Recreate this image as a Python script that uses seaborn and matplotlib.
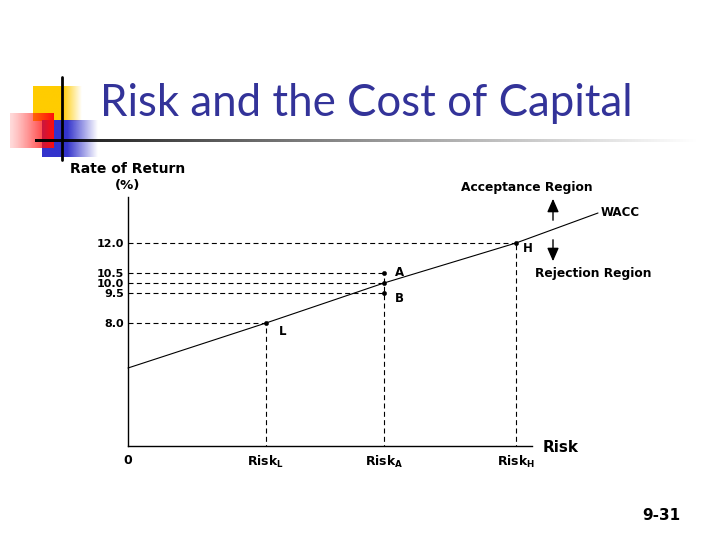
import numpy as np
import matplotlib
matplotlib.use("Agg")
import matplotlib.pyplot as plt
import seaborn as sns
import pandas as pd

# ---- data (schematic chart) ----
rate_ticks = [12.0, 10.5, 10.0, 9.5, 8.0]
rate_labels = ["12.0", "10.5", "10.0", "9.5", "8.0"]
# where each dashed guide line stops (risk of the project at that level)
guide_stop = [7.76, 5.12, 5.12, 5.12, 2.76]

risk_ticks = [0.0, 2.76, 5.12, 7.76]
risk_labels = ["0", r"Risk$_{\bf L}$", r"Risk$_{\bf A}$", r"Risk$_{\bf H}$"]

wacc_risk = [0.0, 2.76, 5.12, 7.76, 9.4]
wacc_rate = [5.75, 8.0, 10.0, 12.0, 13.5]

point_names = ["L", "A", "", "B", "H"]
point_risk = [2.76, 5.12, 5.12, 5.12, 7.76]
point_rate = [8.0, 10.5, 10.0, 9.5, 12.0]
label_offset = [(9, -6), (8, 0), (0, 0), (8, -4), (5, -4)]

# vertical guides: risk position and top of the guide
vguide_risk = [2.76, 5.12, 7.76]
vguide_top = [8.0, 10.5, 12.0]

sns.set_style("white")
plt.rcParams["font.family"] = ["DejaVu Sans"]
plt.rcParams["text.color"] = "black"
plt.rcParams["xtick.color"] = "black"
plt.rcParams["ytick.color"] = "black"

fig = plt.figure(figsize=(7.2, 5.4), dpi=100)

# ---- slide decoration (pixel coordinates) ----
bg = fig.add_axes([0, 0, 1, 1], zorder=0)
bg.set_xlim(0, 720)
bg.set_ylim(540, 0)
bg.axis("off")


def grad_box(x0, x1, y0, y1, rgb, solid_frac, reverse=False):
    n = 200
    t = np.linspace(0, 1, n)
    if reverse:
        alpha = 0.15 + 0.85 * t ** 1.2
    else:
        alpha = np.where(t < solid_frac, 1.0, np.clip((1 - t) / (1 - solid_frac), 0, 1))
    img = np.zeros((1, n, 4))
    img[..., :3] = rgb
    img[..., 3] = alpha
    bg.imshow(img, extent=(x0, x1, y1, y0), aspect="auto", interpolation="bilinear", zorder=1)


grad_box(33, 82, 86, 121, (1.0, 0.8, 0.0), 0.6)
grad_box(42, 98, 120, 157, (0.2, 0.2, 0.8), 0.45)
grad_box(10, 54, 113, 148, (1.0, 0.05, 0.05), 0.0, reverse=True)

# fading horizontal rule
n = 400
img = np.zeros((1, n, 4))
img[..., 3] = np.clip(1 - np.linspace(0, 1, n) ** 0.8, 0, 1)
bg.imshow(img, extent=(35, 700, 142.5, 139.5), aspect="auto", interpolation="bilinear", zorder=2)
bg.plot([62, 62], [77, 160], color="black", lw=2, zorder=3)
bg.set_xlim(0, 720)
bg.set_ylim(540, 0)

bg.text(100, 104, "Risk and the Cost of Capital", fontsize=31.5, color="#333399",
        family=["Lato", "DejaVu Sans"], va="center", ha="left")
bg.text(661, 515, "9-31", fontsize=11, fontweight="bold", ha="center", va="center")

bg.text(128, 169, "Rate of Return", fontsize=10, fontweight="bold", ha="center", va="center")
bg.text(128, 186, "(%)", fontsize=9.5, fontweight="bold", ha="center", va="center")
bg.text(543, 447, "Risk", fontsize=11, fontweight="bold", ha="left", va="center")
bg.text(527, 188, "Acceptance Region", fontsize=8.8, fontweight="bold", ha="center", va="center")
bg.text(593, 273, "Rejection Region", fontsize=8.8, fontweight="bold", ha="center", va="center")
bg.text(601, 213, "WACC", fontsize=8.5, fontweight="bold", ha="left", va="center")
bg.annotate("", xy=(553, 196), xytext=(553, 223),
            arrowprops=dict(arrowstyle="-|>,head_width=0.35,head_length=0.8", color="black", lw=1))
bg.annotate("", xy=(553, 264), xytext=(553, 237),
            arrowprops=dict(arrowstyle="-|>,head_width=0.35,head_length=0.8", color="black", lw=1))

# ---- main chart ----
ax = fig.add_axes([128 / 720, 1 - 446 / 540, 404 / 720, 249 / 540], zorder=2)
ax.patch.set_alpha(0)

dash = (0, (4.5, 3))
ax.hlines(rate_ticks, 0, guide_stop, colors="black", linestyles=dash, lw=0.8)
ax.vlines(vguide_risk, 0, vguide_top, colors="black", linestyles=dash, lw=0.8)

wacc = pd.DataFrame({"risk": wacc_risk, "rate": wacc_rate})
sns.lineplot(data=wacc, x="risk", y="rate", color="black", lw=0.8, ax=ax,
             estimator=None, sort=False, clip_on=False)

pts = pd.DataFrame({"risk": point_risk, "rate": point_rate})
sns.scatterplot(data=pts, x="risk", y="rate", color="black", s=10, ax=ax,
                edgecolor="black", zorder=5)
for name, x, y, off in zip(point_names, point_risk, point_rate, label_offset):
    if name:
        ax.annotate(name, (x, y), xytext=off, textcoords="offset points",
                    fontsize=8.5, fontweight="bold", va="center", ha="left")

ax.set_xlim(0, 8.08)
ax.set_ylim(1.85, 14.3)
ax.set_yticks(rate_ticks)
ax.set_yticklabels(rate_labels, fontsize=8, fontweight="bold")
ax.set_xticks(risk_ticks)
ax.set_xticklabels(risk_labels, fontsize=9, fontweight="bold")
ax.tick_params(axis="both", length=0)
ax.tick_params(axis="y", pad=3)
ax.tick_params(axis="x", pad=6)
ax.set_xlabel("")
ax.set_ylabel("")
sns.despine(ax=ax)
for s in ["left", "bottom"]:
    ax.spines[s].set_color("black")
    ax.spines[s].set_linewidth(1)

fig.savefig("out.png", dpi=100)
